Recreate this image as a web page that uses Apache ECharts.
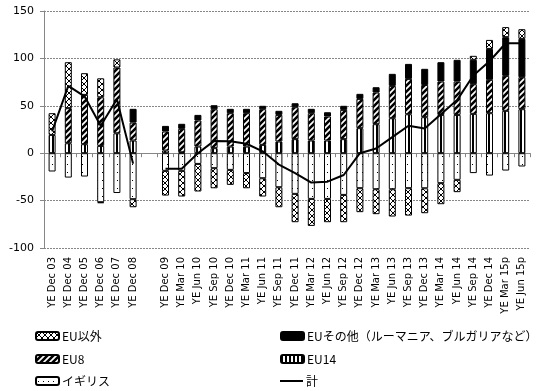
<!DOCTYPE html>
<html><head><meta charset="utf-8">
<script src="https://cdn.jsdelivr.net/npm/echarts@6/dist/echarts.min.js"></script>
<style>html,body{margin:0;padding:0;background:#fff}#c{width:544px;height:391px}</style>
</head><body><div id="c"></div><script>
const categories = ['YE Dec 03','YE Dec 04','YE Dec 05','YE Dec 06','YE Dec 07','YE Dec 08','',
  'YE Dec 09','YE Mar 10','YE Jun 10','YE Sep 10','YE Dec 10','YE Mar 11','YE Jun 11','YE Sep 11',
  'YE Dec 11','YE Mar 12','YE Jun 12','YE Sep 12','YE Dec 12','YE Mar 13','YE Jun 13','YE Sep 13',
  'YE Dec 13','YE Mar 14','YE Jun 14','YE Sep 14','YE Dec 14','YE Mar 15p','YE Jun 15p'];
const uk = [-19.3,-25.7,-24.6,-51.7,-42,-48.5,null,
  -18.6,-18.6,-11.3,-15.8,-17.6,-21,-26.4,-35.9,-42.9,-48.2,-48.2,-44,-36.9,-38,-38,-36.9,-37,-31.6,-28.1,-21,-23.6,-18.3,-14];
const eu14 = [19.3,10.5,9.5,7.7,21,13.4,null,
  2.8,1,7,5.3,7,7,8.8,12.3,14.8,13.4,13.4,14.8,26.4,30.6,36.9,41.1,38,40.4,40.4,41.5,42.2,44.7,46.4];
const eu8 = [null,37,52,51.3,69.4,18.9,null,
  20.1,24.7,27.5,41.1,35.2,35.2,37.6,28.1,33.7,28.8,25.3,30.9,30.9,33.4,34.1,37.3,34,35.2,35.2,31.3,35.2,36.9,33.8];
const euOther = [null,null,null,-1,null,14.5,null,
  5.9,5.3,5.9,4.2,4.6,4.6,3.6,4.3,4.2,4.6,4.5,4.3,5.3,5.6,12.7,15.8,17,20.4,22.9,25.7,32.6,40.8,40.4];
const nonEu = [22.9,48.5,22.9,20,8.6,-8.5,null,
  -26.1,-27.1,-29.1,-21.2,-15.8,-16,-19.3,-21.1,-29.9,-28.5,-24.6,-28.8,-25.3,-26.3,-28.8,-28.9,-26.3,-22.2,-13,4.2,9.5,10.6,10.2];
const total = [23,71,60,29,57,-11,null,
  -16.5,-16.5,0,13,12.5,10,2,-12,-21,-31,-30,-23,0,5,17,29,26,41,56,82,97,116,116];
const yTicks = [-100, -50, 0, 50, 100, 150];
const names = {uk:'イギリス', eu14:'EU14', eu8:'EU8', other:'EUその他（ルーマニア、ブルガリアなど）', non:'EU以外', tot:'計'};

function tile(w, h, draw) {
  const c = document.createElement('canvas'); c.width = w; c.height = h;
  const g = c.getContext('2d'); g.fillStyle = '#fff'; g.fillRect(0, 0, w, h);
  g.fillStyle = '#000'; g.strokeStyle = '#000'; draw(g); return {image: c, repeat: 'repeat'};
}
const patCross = tile(6, 6, g => { g.lineWidth = 1; g.beginPath();
  g.moveTo(0,0); g.lineTo(6,6); g.moveTo(6,0); g.lineTo(0,6); g.stroke(); });
const patDiag = tile(6, 6, g => { g.lineWidth = 2.6; g.beginPath();
  g.moveTo(-1,7); g.lineTo(7,-1); g.moveTo(-1,1); g.lineTo(1,-1); g.moveTo(5,7); g.lineTo(7,5); g.stroke(); });
const patVert = tile(4, 2, g => { g.fillRect(0, 0, 2, 2); });
const patDots = tile(5, 8, g => { g.fillRect(2, 4, 1, 1); });

const border = {borderColor: '#000', borderWidth: 1};
function bar(name, data, color) {
  return {name, type: 'bar', stack: 'all', data, barWidth: 7,
    itemStyle: Object.assign({color}, border), emphasis: {disabled: true}};
}
const chart = echarts.init(document.getElementById('c'), null, {renderer: 'canvas'});
const font = 'DejaVu Sans';
const jp = 'Noto Sans CJK JP';
function leg(name, left, top, extra) {
  return Object.assign({left, top, orient: 'horizontal', itemWidth: 23, itemHeight: 8, data: [name],
    textStyle: {fontSize: 12, fontFamily: jp, color: '#000', padding: [0,0,0,-2]}}, extra || {});
}
chart.setOption({
  animation: false,
  grid: {left: 44, right: 14, top: 11, bottom: 143},
  xAxis: [{
    type: 'category', data: categories, position: 'bottom',
    axisLine: {show: false, onZero: false}, axisTick: {show: false},
    axisLabel: {rotate: 90, interval: 0, fontSize: 10, fontFamily: font, color: '#000', margin: 9}
  }, {
    type: 'category', data: categories, position: 'top',
    axisLine: {show: true, onZero: true, lineStyle: {color: '#868686', width: 1}},
    axisTick: {show: true, inside: true, length: 4, interval: 0, lineStyle: {color: '#868686'}},
    axisLabel: {show: false}
  }],
  yAxis: {
    type: 'value', min: yTicks[0], max: yTicks[yTicks.length - 1], interval: 50,
    axisLine: {show: true, lineStyle: {color: '#868686'}},
    axisTick: {show: true, length: 4, lineStyle: {color: '#868686'}},
    splitLine: {lineStyle: {color: '#868686', type: [2, 1]}},
    axisLabel: {fontSize: 11, fontFamily: font, color: '#000', margin: 10,
      formatter: v => String(v).replace('\u2212', '-')}
  },
  legend: [
    leg(names.non, 30, 325), leg(names.eu8, 30, 348), leg(names.uk, 30, 370),
    leg(names.other, 275, 325), leg(names.eu14, 275, 348),
    leg(names.tot, 275, 370, {icon: 'rect', itemHeight: 2, itemStyle: {color: '#000', borderWidth: 0}})
  ],
  series: [
    bar(names.uk, uk, patDots),
    bar(names.eu14, eu14, patVert),
    bar(names.eu8, eu8, patDiag),
    bar(names.other, euOther, '#000'),
    bar(names.non, nonEu, patCross),
    {name: names.tot, type: 'line', data: total, symbol: 'none', connectNulls: false, z: 5,
     lineStyle: {color: '#000', width: 2}, itemStyle: {color: '#000'}, emphasis: {disabled: true}}
  ]
});
</script></body></html>
